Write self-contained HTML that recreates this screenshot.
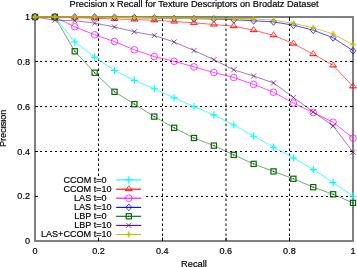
<!DOCTYPE html>
<html><head><meta charset="utf-8"><style>
html,body{margin:0;padding:0;background:#fff;width:357px;height:267px;overflow:hidden}
svg text{font-family:"Liberation Sans",sans-serif;font-size:9.1px;fill:#000;stroke:#000;stroke-width:0.18px}
</style></head><body>
<svg width="357" height="267" viewBox="0 0 357 267" style="position:absolute;left:0;top:0;will-change:transform">
<rect width="357" height="267" fill="#fff"/>
<path d="M98.5 241.0V17.0 M162.5 241.0V17.0 M226.0 241.0V17.0 M289.5 241.0V17.0" stroke="#000" stroke-width="1" stroke-dasharray="2.5 2.5" fill="none"/>
<path d="M36.0 196.5H353.0 M35.0 151.5H353.0 M35.0 106.5H353.0 M35.0 61.5H353.0" stroke="#000" stroke-width="1" stroke-dasharray="2 3" fill="none"/>
<rect x="40.6" y="176" width="105" height="61.5" fill="#fff"/>
<rect x="35.0" y="17.0" width="318.0" height="224.0" stroke="#808080" stroke-width="2" fill="none"/>
<path d="M98.5 241.0v-3.4M98.5 17.0v3.4M35.0 196.5h3.0M353.0 196.5h-3.0M162.5 241.0v-3.4M162.5 17.0v3.4M35.0 151.5h3.0M353.0 151.5h-3.0M226.0 241.0v-3.4M226.0 17.0v3.4M35.0 106.5h3.0M353.0 106.5h-3.0M289.5 241.0v-3.4M289.5 17.0v3.4M35.0 61.5h3.0M353.0 61.5h-3.0" stroke="#000" stroke-width="1" fill="none"/>
<polyline points="35.00,17.00 54.88,17.00 74.75,41.80 94.62,57.10 114.50,70.50 134.38,80.30 154.25,88.70 174.12,97.80 194.00,106.70 213.88,114.90 233.75,125.00 253.62,136.20 273.50,147.10 293.38,157.80 313.25,169.60 333.12,182.60 353.00,196.20" stroke="#00ffff" stroke-width="0.7" fill="none"/>
<path d="M31.40 17.00H38.60M35.00 13.40V20.60" stroke="#00ffff" stroke-width="1.15" fill="none"/>
<path d="M51.27 17.00H58.48M54.88 13.40V20.60" stroke="#00ffff" stroke-width="1.15" fill="none"/>
<path d="M71.15 41.80H78.35M74.75 38.20V45.40" stroke="#00ffff" stroke-width="1.15" fill="none"/>
<path d="M91.03 57.10H98.22M94.62 53.50V60.70" stroke="#00ffff" stroke-width="1.15" fill="none"/>
<path d="M110.90 70.50H118.10M114.50 66.90V74.10" stroke="#00ffff" stroke-width="1.15" fill="none"/>
<path d="M130.78 80.30H137.97M134.38 76.70V83.90" stroke="#00ffff" stroke-width="1.15" fill="none"/>
<path d="M150.65 88.70H157.85M154.25 85.10V92.30" stroke="#00ffff" stroke-width="1.15" fill="none"/>
<path d="M170.53 97.80H177.72M174.12 94.20V101.40" stroke="#00ffff" stroke-width="1.15" fill="none"/>
<path d="M190.40 106.70H197.60M194.00 103.10V110.30" stroke="#00ffff" stroke-width="1.15" fill="none"/>
<path d="M210.28 114.90H217.47M213.88 111.30V118.50" stroke="#00ffff" stroke-width="1.15" fill="none"/>
<path d="M230.15 125.00H237.35M233.75 121.40V128.60" stroke="#00ffff" stroke-width="1.15" fill="none"/>
<path d="M250.03 136.20H257.23M253.62 132.60V139.80" stroke="#00ffff" stroke-width="1.15" fill="none"/>
<path d="M269.90 147.10H277.10M273.50 143.50V150.70" stroke="#00ffff" stroke-width="1.15" fill="none"/>
<path d="M289.77 157.80H296.98M293.38 154.20V161.40" stroke="#00ffff" stroke-width="1.15" fill="none"/>
<path d="M309.65 169.60H316.85M313.25 166.00V173.20" stroke="#00ffff" stroke-width="1.15" fill="none"/>
<path d="M329.52 182.60H336.73M333.12 179.00V186.20" stroke="#00ffff" stroke-width="1.15" fill="none"/>
<path d="M349.40 196.20H356.60M353.00 192.60V199.80" stroke="#00ffff" stroke-width="1.15" fill="none"/>
<polyline points="35.00,17.00 54.88,17.00 74.75,17.60 94.62,18.30 114.50,18.90 134.38,19.50 154.25,20.30 174.12,21.50 194.00,22.80 213.88,24.50 233.75,26.20 253.62,30.20 273.50,35.30 293.38,43.60 313.25,54.20 333.12,65.40 353.00,86.40" stroke="#ff0000" stroke-width="0.6" fill="none"/>
<path d="M35.00 13.40L38.30 18.50M35.00 13.40L31.70 18.50" stroke="#ff0000" stroke-width="0.7" fill="none"/><path d="M31.40 18.50H38.60" stroke="#ff0000" stroke-width="1.0"/>
<path d="M54.88 13.40L58.17 18.50M54.88 13.40L51.58 18.50" stroke="#ff0000" stroke-width="0.7" fill="none"/><path d="M51.28 18.50H58.47" stroke="#ff0000" stroke-width="1.0"/>
<path d="M74.75 14.00L78.05 19.10M74.75 14.00L71.45 19.10" stroke="#ff0000" stroke-width="0.7" fill="none"/><path d="M71.15 19.10H78.35" stroke="#ff0000" stroke-width="1.0"/>
<path d="M94.62 14.70L97.92 19.80M94.62 14.70L91.33 19.80" stroke="#ff0000" stroke-width="0.7" fill="none"/><path d="M91.03 19.80H98.22" stroke="#ff0000" stroke-width="1.0"/>
<path d="M114.50 15.30L117.80 20.40M114.50 15.30L111.20 20.40" stroke="#ff0000" stroke-width="0.7" fill="none"/><path d="M110.90 20.40H118.10" stroke="#ff0000" stroke-width="1.0"/>
<path d="M134.38 15.90L137.68 21.00M134.38 15.90L131.07 21.00" stroke="#ff0000" stroke-width="0.7" fill="none"/><path d="M130.77 21.00H137.98" stroke="#ff0000" stroke-width="1.0"/>
<path d="M154.25 16.70L157.55 21.80M154.25 16.70L150.95 21.80" stroke="#ff0000" stroke-width="0.7" fill="none"/><path d="M150.65 21.80H157.85" stroke="#ff0000" stroke-width="1.0"/>
<path d="M174.12 17.90L177.43 23.00M174.12 17.90L170.82 23.00" stroke="#ff0000" stroke-width="0.7" fill="none"/><path d="M170.52 23.00H177.73" stroke="#ff0000" stroke-width="1.0"/>
<path d="M194.00 19.20L197.30 24.30M194.00 19.20L190.70 24.30" stroke="#ff0000" stroke-width="0.7" fill="none"/><path d="M190.40 24.30H197.60" stroke="#ff0000" stroke-width="1.0"/>
<path d="M213.88 20.90L217.18 26.00M213.88 20.90L210.57 26.00" stroke="#ff0000" stroke-width="0.7" fill="none"/><path d="M210.27 26.00H217.48" stroke="#ff0000" stroke-width="1.0"/>
<path d="M233.75 22.60L237.05 27.70M233.75 22.60L230.45 27.70" stroke="#ff0000" stroke-width="0.7" fill="none"/><path d="M230.15 27.70H237.35" stroke="#ff0000" stroke-width="1.0"/>
<path d="M253.62 26.60L256.93 31.70M253.62 26.60L250.32 31.70" stroke="#ff0000" stroke-width="0.7" fill="none"/><path d="M250.02 31.70H257.23" stroke="#ff0000" stroke-width="1.0"/>
<path d="M273.50 31.70L276.80 36.80M273.50 31.70L270.20 36.80" stroke="#ff0000" stroke-width="0.7" fill="none"/><path d="M269.90 36.80H277.10" stroke="#ff0000" stroke-width="1.0"/>
<path d="M293.38 40.00L296.68 45.10M293.38 40.00L290.07 45.10" stroke="#ff0000" stroke-width="0.7" fill="none"/><path d="M289.77 45.10H296.98" stroke="#ff0000" stroke-width="1.0"/>
<path d="M313.25 50.60L316.55 55.70M313.25 50.60L309.95 55.70" stroke="#ff0000" stroke-width="0.7" fill="none"/><path d="M309.65 55.70H316.85" stroke="#ff0000" stroke-width="1.0"/>
<path d="M333.12 61.80L336.43 66.90M333.12 61.80L329.82 66.90" stroke="#ff0000" stroke-width="0.7" fill="none"/><path d="M329.52 66.90H336.73" stroke="#ff0000" stroke-width="1.0"/>
<path d="M353.00 82.80L356.30 87.90M353.00 82.80L349.70 87.90" stroke="#ff0000" stroke-width="0.7" fill="none"/><path d="M349.40 87.90H356.60" stroke="#ff0000" stroke-width="1.0"/>
<polyline points="35.00,17.00 54.88,17.00 74.75,26.80 94.62,34.80 114.50,41.50 134.38,49.80 154.25,56.60 174.12,61.30 194.00,66.90 213.88,72.50 233.75,77.50 253.62,84.40 273.50,92.20 293.38,103.10 313.25,112.60 333.12,122.20 353.00,138.20" stroke="#ff00ff" stroke-width="0.7" fill="none"/>
<circle cx="35.00" cy="17.00" r="3.3" stroke="#ff00ff" stroke-width="0.75" fill="none"/>
<circle cx="54.88" cy="17.00" r="3.3" stroke="#ff00ff" stroke-width="0.75" fill="none"/>
<circle cx="74.75" cy="26.80" r="3.3" stroke="#ff00ff" stroke-width="0.75" fill="none"/>
<circle cx="94.62" cy="34.80" r="3.3" stroke="#ff00ff" stroke-width="0.75" fill="none"/>
<circle cx="114.50" cy="41.50" r="3.3" stroke="#ff00ff" stroke-width="0.75" fill="none"/>
<circle cx="134.38" cy="49.80" r="3.3" stroke="#ff00ff" stroke-width="0.75" fill="none"/>
<circle cx="154.25" cy="56.60" r="3.3" stroke="#ff00ff" stroke-width="0.75" fill="none"/>
<circle cx="174.12" cy="61.30" r="3.3" stroke="#ff00ff" stroke-width="0.75" fill="none"/>
<circle cx="194.00" cy="66.90" r="3.3" stroke="#ff00ff" stroke-width="0.75" fill="none"/>
<circle cx="213.88" cy="72.50" r="3.3" stroke="#ff00ff" stroke-width="0.75" fill="none"/>
<circle cx="233.75" cy="77.50" r="3.3" stroke="#ff00ff" stroke-width="0.75" fill="none"/>
<circle cx="253.62" cy="84.40" r="3.3" stroke="#ff00ff" stroke-width="0.75" fill="none"/>
<circle cx="273.50" cy="92.20" r="3.3" stroke="#ff00ff" stroke-width="0.75" fill="none"/>
<circle cx="293.38" cy="103.10" r="3.3" stroke="#ff00ff" stroke-width="0.75" fill="none"/>
<circle cx="313.25" cy="112.60" r="3.3" stroke="#ff00ff" stroke-width="0.75" fill="none"/>
<circle cx="333.12" cy="122.20" r="3.3" stroke="#ff00ff" stroke-width="0.75" fill="none"/>
<circle cx="353.00" cy="138.20" r="3.3" stroke="#ff00ff" stroke-width="0.75" fill="none"/>
<polyline points="35.00,17.00 54.88,17.00 74.75,17.00 94.62,17.00 114.50,17.30 134.38,17.60 154.25,17.90 174.12,18.40 194.00,18.70 213.88,19.00 233.75,19.80 253.62,20.80 273.50,21.90 293.38,25.20 313.25,30.20 333.12,37.80 353.00,50.70" stroke="#0000ff" stroke-width="0.7" fill="none"/>
<path d="M35.00 13.60L37.90 17.00L35.00 20.40L32.10 17.00Z" stroke="#0000ff" stroke-width="0.75" fill="none"/>
<path d="M54.88 13.60L57.77 17.00L54.88 20.40L51.98 17.00Z" stroke="#0000ff" stroke-width="0.75" fill="none"/>
<path d="M74.75 13.60L77.65 17.00L74.75 20.40L71.85 17.00Z" stroke="#0000ff" stroke-width="0.75" fill="none"/>
<path d="M94.62 13.60L97.53 17.00L94.62 20.40L91.72 17.00Z" stroke="#0000ff" stroke-width="0.75" fill="none"/>
<path d="M114.50 13.90L117.40 17.30L114.50 20.70L111.60 17.30Z" stroke="#0000ff" stroke-width="0.75" fill="none"/>
<path d="M134.38 14.20L137.28 17.60L134.38 21.00L131.47 17.60Z" stroke="#0000ff" stroke-width="0.75" fill="none"/>
<path d="M154.25 14.50L157.15 17.90L154.25 21.30L151.35 17.90Z" stroke="#0000ff" stroke-width="0.75" fill="none"/>
<path d="M174.12 15.00L177.03 18.40L174.12 21.80L171.22 18.40Z" stroke="#0000ff" stroke-width="0.75" fill="none"/>
<path d="M194.00 15.30L196.90 18.70L194.00 22.10L191.10 18.70Z" stroke="#0000ff" stroke-width="0.75" fill="none"/>
<path d="M213.88 15.60L216.78 19.00L213.88 22.40L210.97 19.00Z" stroke="#0000ff" stroke-width="0.75" fill="none"/>
<path d="M233.75 16.40L236.65 19.80L233.75 23.20L230.85 19.80Z" stroke="#0000ff" stroke-width="0.75" fill="none"/>
<path d="M253.62 17.40L256.52 20.80L253.62 24.20L250.72 20.80Z" stroke="#0000ff" stroke-width="0.75" fill="none"/>
<path d="M273.50 18.50L276.40 21.90L273.50 25.30L270.60 21.90Z" stroke="#0000ff" stroke-width="0.75" fill="none"/>
<path d="M293.38 21.80L296.27 25.20L293.38 28.60L290.48 25.20Z" stroke="#0000ff" stroke-width="0.75" fill="none"/>
<path d="M313.25 26.80L316.15 30.20L313.25 33.60L310.35 30.20Z" stroke="#0000ff" stroke-width="0.75" fill="none"/>
<path d="M333.12 34.40L336.02 37.80L333.12 41.20L330.23 37.80Z" stroke="#0000ff" stroke-width="0.75" fill="none"/>
<path d="M353.00 47.30L355.90 50.70L353.00 54.10L350.10 50.70Z" stroke="#0000ff" stroke-width="0.75" fill="none"/>
<polyline points="35.00,17.00 54.88,17.00 74.75,51.30 94.62,72.70 114.50,91.80 134.38,104.20 154.25,116.60 174.12,127.80 194.00,138.00 213.88,145.60 233.75,154.90 253.62,163.90 273.50,171.40 293.38,178.80 313.25,187.20 333.12,194.30 353.00,202.90" stroke="#006400" stroke-width="0.55" fill="none"/>
<rect x="32.40" y="14.40" width="5.20" height="5.20" stroke="#006400" stroke-width="1.15" fill="none"/><rect x="34.40" y="16.40" width="1.2" height="1.2" fill="#006400"/>
<rect x="52.27" y="14.40" width="5.20" height="5.20" stroke="#006400" stroke-width="1.15" fill="none"/><rect x="54.27" y="16.40" width="1.2" height="1.2" fill="#006400"/>
<rect x="72.15" y="48.70" width="5.20" height="5.20" stroke="#006400" stroke-width="1.15" fill="none"/><rect x="74.15" y="50.70" width="1.2" height="1.2" fill="#006400"/>
<rect x="92.03" y="70.10" width="5.20" height="5.20" stroke="#006400" stroke-width="1.15" fill="none"/><rect x="94.03" y="72.10" width="1.2" height="1.2" fill="#006400"/>
<rect x="111.90" y="89.20" width="5.20" height="5.20" stroke="#006400" stroke-width="1.15" fill="none"/><rect x="113.90" y="91.20" width="1.2" height="1.2" fill="#006400"/>
<rect x="131.78" y="101.60" width="5.20" height="5.20" stroke="#006400" stroke-width="1.15" fill="none"/><rect x="133.78" y="103.60" width="1.2" height="1.2" fill="#006400"/>
<rect x="151.65" y="114.00" width="5.20" height="5.20" stroke="#006400" stroke-width="1.15" fill="none"/><rect x="153.65" y="116.00" width="1.2" height="1.2" fill="#006400"/>
<rect x="171.53" y="125.20" width="5.20" height="5.20" stroke="#006400" stroke-width="1.15" fill="none"/><rect x="173.53" y="127.20" width="1.2" height="1.2" fill="#006400"/>
<rect x="191.40" y="135.40" width="5.20" height="5.20" stroke="#006400" stroke-width="1.15" fill="none"/><rect x="193.40" y="137.40" width="1.2" height="1.2" fill="#006400"/>
<rect x="211.28" y="143.00" width="5.20" height="5.20" stroke="#006400" stroke-width="1.15" fill="none"/><rect x="213.28" y="145.00" width="1.2" height="1.2" fill="#006400"/>
<rect x="231.15" y="152.30" width="5.20" height="5.20" stroke="#006400" stroke-width="1.15" fill="none"/><rect x="233.15" y="154.30" width="1.2" height="1.2" fill="#006400"/>
<rect x="251.03" y="161.30" width="5.20" height="5.20" stroke="#006400" stroke-width="1.15" fill="none"/><rect x="253.03" y="163.30" width="1.2" height="1.2" fill="#006400"/>
<rect x="270.90" y="168.80" width="5.20" height="5.20" stroke="#006400" stroke-width="1.15" fill="none"/><rect x="272.90" y="170.80" width="1.2" height="1.2" fill="#006400"/>
<rect x="290.77" y="176.20" width="5.20" height="5.20" stroke="#006400" stroke-width="1.15" fill="none"/><rect x="292.77" y="178.20" width="1.2" height="1.2" fill="#006400"/>
<rect x="310.65" y="184.60" width="5.20" height="5.20" stroke="#006400" stroke-width="1.15" fill="none"/><rect x="312.65" y="186.60" width="1.2" height="1.2" fill="#006400"/>
<rect x="330.52" y="191.70" width="5.20" height="5.20" stroke="#006400" stroke-width="1.15" fill="none"/><rect x="332.52" y="193.70" width="1.2" height="1.2" fill="#006400"/>
<rect x="350.40" y="200.30" width="5.20" height="5.20" stroke="#006400" stroke-width="1.15" fill="none"/><rect x="352.40" y="202.30" width="1.2" height="1.2" fill="#006400"/>
<polyline points="35.00,17.00 54.88,20.20 74.75,20.80 94.62,23.10 114.50,27.00 134.38,31.80 154.25,35.50 174.12,42.00 194.00,50.50 213.88,59.70 233.75,69.80 253.62,76.00 273.50,82.90 293.38,97.40 313.25,111.90 333.12,125.90 353.00,152.20" stroke="#5a0a6e" stroke-width="0.55" fill="none"/>
<path d="M32.40 14.40L37.60 19.60M32.40 19.60L37.60 14.40" stroke="#5a0a6e" stroke-width="0.7" fill="none"/>
<path d="M52.27 17.60L57.48 22.80M52.27 22.80L57.48 17.60" stroke="#5a0a6e" stroke-width="0.7" fill="none"/>
<path d="M72.15 18.20L77.35 23.40M72.15 23.40L77.35 18.20" stroke="#5a0a6e" stroke-width="0.7" fill="none"/>
<path d="M92.03 20.50L97.22 25.70M92.03 25.70L97.22 20.50" stroke="#5a0a6e" stroke-width="0.7" fill="none"/>
<path d="M111.90 24.40L117.10 29.60M111.90 29.60L117.10 24.40" stroke="#5a0a6e" stroke-width="0.7" fill="none"/>
<path d="M131.78 29.20L136.97 34.40M131.78 34.40L136.97 29.20" stroke="#5a0a6e" stroke-width="0.7" fill="none"/>
<path d="M151.65 32.90L156.85 38.10M151.65 38.10L156.85 32.90" stroke="#5a0a6e" stroke-width="0.7" fill="none"/>
<path d="M171.53 39.40L176.72 44.60M171.53 44.60L176.72 39.40" stroke="#5a0a6e" stroke-width="0.7" fill="none"/>
<path d="M191.40 47.90L196.60 53.10M191.40 53.10L196.60 47.90" stroke="#5a0a6e" stroke-width="0.7" fill="none"/>
<path d="M211.28 57.10L216.47 62.30M211.28 62.30L216.47 57.10" stroke="#5a0a6e" stroke-width="0.7" fill="none"/>
<path d="M231.15 67.20L236.35 72.40M231.15 72.40L236.35 67.20" stroke="#5a0a6e" stroke-width="0.7" fill="none"/>
<path d="M251.03 73.40L256.23 78.60M251.03 78.60L256.23 73.40" stroke="#5a0a6e" stroke-width="0.7" fill="none"/>
<path d="M270.90 80.30L276.10 85.50M270.90 85.50L276.10 80.30" stroke="#5a0a6e" stroke-width="0.7" fill="none"/>
<path d="M290.77 94.80L295.98 100.00M290.77 100.00L295.98 94.80" stroke="#5a0a6e" stroke-width="0.7" fill="none"/>
<path d="M310.65 109.30L315.85 114.50M310.65 114.50L315.85 109.30" stroke="#5a0a6e" stroke-width="0.7" fill="none"/>
<path d="M330.52 123.30L335.73 128.50M330.52 128.50L335.73 123.30" stroke="#5a0a6e" stroke-width="0.7" fill="none"/>
<path d="M350.40 149.60L355.60 154.80M350.40 154.80L355.60 149.60" stroke="#5a0a6e" stroke-width="0.7" fill="none"/>
<polyline points="35.00,17.00 54.88,17.00 74.75,17.00 94.62,17.00 114.50,17.30 134.38,17.60 154.25,17.80 174.12,18.10 194.00,18.30 213.88,18.50 233.75,18.60 253.62,19.00" stroke="#c4bc00" stroke-width="1.5" fill="none"/>
<polyline points="253.62,19.00 273.50,20.10 293.38,23.40 313.25,27.70 333.12,34.00 353.00,44.70" stroke="#c4bc00" stroke-width="0.8" fill="none"/>
<path d="M32.90 14.90L37.10 19.10M32.90 19.10L37.10 14.90" stroke="#c4bc00" stroke-width="0.5" fill="none"/><path d="M32.10 17.00H37.90" stroke="#c4bc00" stroke-width="0.9" fill="none"/><path d="M35.00 14.10V19.90" stroke="#c4bc00" stroke-width="1.2" fill="none"/>
<path d="M52.77 14.90L56.98 19.10M52.77 19.10L56.98 14.90" stroke="#c4bc00" stroke-width="0.5" fill="none"/><path d="M51.98 17.00H57.77" stroke="#c4bc00" stroke-width="0.9" fill="none"/><path d="M54.88 14.10V19.90" stroke="#c4bc00" stroke-width="1.2" fill="none"/>
<path d="M72.65 14.90L76.85 19.10M72.65 19.10L76.85 14.90" stroke="#c4bc00" stroke-width="0.5" fill="none"/><path d="M71.85 17.00H77.65" stroke="#c4bc00" stroke-width="0.9" fill="none"/><path d="M74.75 14.10V19.90" stroke="#c4bc00" stroke-width="1.2" fill="none"/>
<path d="M92.53 14.90L96.72 19.10M92.53 19.10L96.72 14.90" stroke="#c4bc00" stroke-width="0.5" fill="none"/><path d="M91.72 17.00H97.53" stroke="#c4bc00" stroke-width="0.9" fill="none"/><path d="M94.62 14.10V19.90" stroke="#c4bc00" stroke-width="1.2" fill="none"/>
<path d="M112.40 15.20L116.60 19.40M112.40 19.40L116.60 15.20" stroke="#c4bc00" stroke-width="0.5" fill="none"/><path d="M111.60 17.30H117.40" stroke="#c4bc00" stroke-width="0.9" fill="none"/><path d="M114.50 14.40V20.20" stroke="#c4bc00" stroke-width="1.2" fill="none"/>
<path d="M132.28 15.50L136.47 19.70M132.28 19.70L136.47 15.50" stroke="#c4bc00" stroke-width="0.5" fill="none"/><path d="M131.47 17.60H137.28" stroke="#c4bc00" stroke-width="0.9" fill="none"/><path d="M134.38 14.70V20.50" stroke="#c4bc00" stroke-width="1.2" fill="none"/>
<path d="M152.15 15.70L156.35 19.90M152.15 19.90L156.35 15.70" stroke="#c4bc00" stroke-width="0.5" fill="none"/><path d="M151.35 17.80H157.15" stroke="#c4bc00" stroke-width="0.9" fill="none"/><path d="M154.25 14.90V20.70" stroke="#c4bc00" stroke-width="1.2" fill="none"/>
<path d="M172.03 16.00L176.22 20.20M172.03 20.20L176.22 16.00" stroke="#c4bc00" stroke-width="0.5" fill="none"/><path d="M171.22 18.10H177.03" stroke="#c4bc00" stroke-width="0.9" fill="none"/><path d="M174.12 15.20V21.00" stroke="#c4bc00" stroke-width="1.2" fill="none"/>
<path d="M191.90 16.20L196.10 20.40M191.90 20.40L196.10 16.20" stroke="#c4bc00" stroke-width="0.5" fill="none"/><path d="M191.10 18.30H196.90" stroke="#c4bc00" stroke-width="0.9" fill="none"/><path d="M194.00 15.40V21.20" stroke="#c4bc00" stroke-width="1.2" fill="none"/>
<path d="M211.78 16.40L215.97 20.60M211.78 20.60L215.97 16.40" stroke="#c4bc00" stroke-width="0.5" fill="none"/><path d="M210.97 18.50H216.78" stroke="#c4bc00" stroke-width="0.9" fill="none"/><path d="M213.88 15.60V21.40" stroke="#c4bc00" stroke-width="1.2" fill="none"/>
<path d="M231.65 16.50L235.85 20.70M231.65 20.70L235.85 16.50" stroke="#c4bc00" stroke-width="0.5" fill="none"/><path d="M230.85 18.60H236.65" stroke="#c4bc00" stroke-width="0.9" fill="none"/><path d="M233.75 15.70V21.50" stroke="#c4bc00" stroke-width="1.2" fill="none"/>
<path d="M251.53 16.90L255.72 21.10M251.53 21.10L255.72 16.90" stroke="#c4bc00" stroke-width="0.5" fill="none"/><path d="M250.72 19.00H256.52" stroke="#c4bc00" stroke-width="0.9" fill="none"/><path d="M253.62 16.10V21.90" stroke="#c4bc00" stroke-width="1.2" fill="none"/>
<path d="M271.40 18.00L275.60 22.20M271.40 22.20L275.60 18.00" stroke="#c4bc00" stroke-width="0.5" fill="none"/><path d="M270.60 20.10H276.40" stroke="#c4bc00" stroke-width="0.9" fill="none"/><path d="M273.50 17.20V23.00" stroke="#c4bc00" stroke-width="1.2" fill="none"/>
<path d="M291.27 21.30L295.48 25.50M291.27 25.50L295.48 21.30" stroke="#c4bc00" stroke-width="0.5" fill="none"/><path d="M290.48 23.40H296.27" stroke="#c4bc00" stroke-width="0.9" fill="none"/><path d="M293.38 20.50V26.30" stroke="#c4bc00" stroke-width="1.2" fill="none"/>
<path d="M311.15 25.60L315.35 29.80M311.15 29.80L315.35 25.60" stroke="#c4bc00" stroke-width="0.5" fill="none"/><path d="M310.35 27.70H316.15" stroke="#c4bc00" stroke-width="0.9" fill="none"/><path d="M313.25 24.80V30.60" stroke="#c4bc00" stroke-width="1.2" fill="none"/>
<path d="M331.02 31.90L335.23 36.10M331.02 36.10L335.23 31.90" stroke="#c4bc00" stroke-width="0.5" fill="none"/><path d="M330.23 34.00H336.02" stroke="#c4bc00" stroke-width="0.9" fill="none"/><path d="M333.12 31.10V36.90" stroke="#c4bc00" stroke-width="1.2" fill="none"/>
<path d="M350.90 42.60L355.10 46.80M350.90 46.80L355.10 42.60" stroke="#c4bc00" stroke-width="0.5" fill="none"/><path d="M350.10 44.70H355.90" stroke="#c4bc00" stroke-width="0.9" fill="none"/><path d="M353.00 41.80V47.60" stroke="#c4bc00" stroke-width="1.2" fill="none"/>
<line x1="116.2" y1="179.90" x2="141.1" y2="179.90" stroke="#00ffff" stroke-width="1.1"/>
<path d="M125.20 179.90H132.40M128.80 176.30V183.50" stroke="#00ffff" stroke-width="1.15" fill="none"/>
<text transform="translate(106.60,182.95) scale(1,1.06)" text-anchor="end">CCOM t=0</text>
<line x1="116.2" y1="189.20" x2="141.1" y2="189.20" stroke="#ff0000" stroke-width="1.1"/>
<path d="M128.80 185.60L132.10 190.70M128.80 185.60L125.50 190.70" stroke="#ff0000" stroke-width="0.7" fill="none"/><path d="M125.20 190.70H132.40" stroke="#ff0000" stroke-width="1.0"/>
<text transform="translate(111.60,191.93) scale(1,1.06)" text-anchor="end">CCOM t=10</text>
<line x1="116.2" y1="198.20" x2="141.1" y2="198.20" stroke="#ff00ff" stroke-width="1.1"/>
<circle cx="128.80" cy="198.20" r="3.3" stroke="#ff00ff" stroke-width="0.75" fill="none"/>
<text transform="translate(106.60,200.91) scale(1,1.06)" text-anchor="end">LAS t=0</text>
<line x1="116.2" y1="207.40" x2="141.1" y2="207.40" stroke="#0000ff" stroke-width="1.1"/>
<path d="M128.80 204.00L131.70 207.40L128.80 210.80L125.90 207.40Z" stroke="#0000ff" stroke-width="0.75" fill="none"/>
<text transform="translate(111.60,209.89) scale(1,1.06)" text-anchor="end">LAS t=10</text>
<line x1="116.2" y1="216.30" x2="141.1" y2="216.30" stroke="#006400" stroke-width="1.1"/>
<rect x="126.20" y="213.70" width="5.20" height="5.20" stroke="#006400" stroke-width="1.15" fill="none"/><rect x="128.20" y="215.70" width="1.2" height="1.2" fill="#006400"/>
<text transform="translate(106.60,218.87) scale(1,1.06)" text-anchor="end">LBP t=0</text>
<line x1="116.2" y1="225.40" x2="141.1" y2="225.40" stroke="#5a0a6e" stroke-width="1.1"/>
<path d="M126.20 222.80L131.40 228.00M126.20 228.00L131.40 222.80" stroke="#5a0a6e" stroke-width="0.7" fill="none"/>
<text transform="translate(111.60,227.85) scale(1,1.06)" text-anchor="end">LBP t=10</text>
<line x1="116.2" y1="234.50" x2="141.1" y2="234.50" stroke="#c4bc00" stroke-width="1.1"/>
<path d="M126.70 232.40L130.90 236.60M126.70 236.60L130.90 232.40" stroke="#c4bc00" stroke-width="0.5" fill="none"/><path d="M125.90 234.50H131.70" stroke="#c4bc00" stroke-width="0.9" fill="none"/><path d="M128.80 231.60V237.40" stroke="#c4bc00" stroke-width="1.2" fill="none"/>
<text transform="translate(111.60,236.83) scale(1,1.06)" text-anchor="end">LAS+CCOM t=10</text>
<text transform="translate(35.00,253.60) scale(1,1.06)" text-anchor="middle">0</text>
<text transform="translate(30.00,244.20) scale(1,1.06)" text-anchor="end">0</text>
<text transform="translate(98.60,253.60) scale(1,1.06)" text-anchor="middle">0.2</text>
<text transform="translate(30.00,199.40) scale(1,1.06)" text-anchor="end">0.2</text>
<text transform="translate(162.20,253.60) scale(1,1.06)" text-anchor="middle">0.4</text>
<text transform="translate(30.00,154.60) scale(1,1.06)" text-anchor="end">0.4</text>
<text transform="translate(225.80,253.60) scale(1,1.06)" text-anchor="middle">0.6</text>
<text transform="translate(30.00,109.80) scale(1,1.06)" text-anchor="end">0.6</text>
<text transform="translate(289.40,253.60) scale(1,1.06)" text-anchor="middle">0.8</text>
<text transform="translate(30.00,65.00) scale(1,1.06)" text-anchor="end">0.8</text>
<text transform="translate(353.00,253.60) scale(1,1.06)" text-anchor="middle">1</text>
<text transform="translate(30.00,20.20) scale(1,1.06)" text-anchor="end">1</text>
<text transform="translate(194.10,6.50) scale(1,1.06)" text-anchor="middle" style="font-size:9.2px">Precision x Recall for Texture Descriptors on Brodatz Dataset</text>
<text transform="translate(194.00,267.00) scale(1,1.06)" text-anchor="middle" style="font-size:9.3px">Recall</text>
<text transform="translate(6.20,128.30) rotate(-90) scale(1,1.06)" text-anchor="middle">Precision</text>
</svg>
</body></html>
